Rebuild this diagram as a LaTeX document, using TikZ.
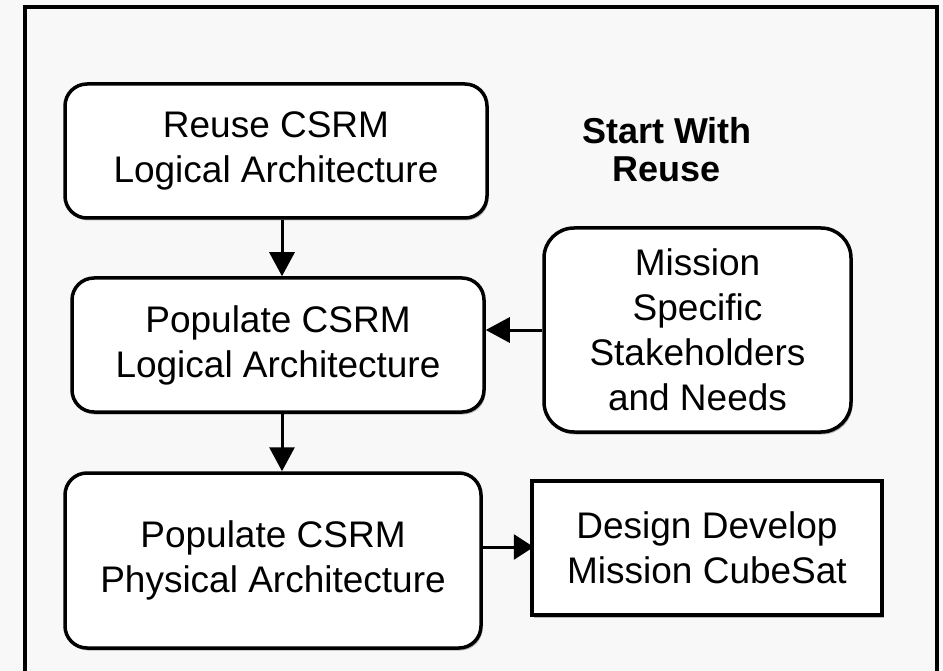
\documentclass[tikz,border=0pt]{standalone}
\usepackage{fontspec}
\setmainfont{Liberation Sans}
\usetikzlibrary{arrows.meta,shadows}
\definecolor{pagebg}{HTML}{F8F8F8}
\tikzset{
  x=1pt, y=-1pt,
  box/.style={draw=black, line width=3.5pt, fill=white, rounded corners=22pt,
    align=center, inner sep=0pt, font=\fontsize{37}{45}\selectfont,
    drop shadow={shadow xshift=1.5pt, shadow yshift=-2.5pt, fill=black!45, opacity=0.6}},
  sqbox/.style={box, rounded corners=0pt, line width=4.5pt},
  arr/.style={line width=3pt, -{Triangle[length=24pt,width=25pt]}},
}
\begin{document}
\begin{tikzpicture}
  \fill[pagebg] (0,0) rectangle (943,671);
  \useasboundingbox (0,0) rectangle (943,671);
  % open frame round the flow
  \draw[line width=4pt] (25,671) -- (25,7) -- (937,7) -- (937,671);

  \node[box, minimum width=422pt, minimum height=134pt] (reuse) at (276,151)
    {Reuse CSRM\\Logical Architecture};
  \node[box, minimum width=412pt, minimum height=134pt] (poplog) at (278,345)
    {Populate CSRM\\Logical Architecture};
  \node[box, rounded corners=30pt, minimum width=307pt, minimum height=204pt] (needs) at (697.5,330)
    {Mission\\Specific\\Stakeholders\\and Needs};
  \node[box, minimum width=416pt, minimum height=175pt] (popphys) at (273,560.5)
    {Populate CSRM\\Physical Architecture};
  \node[sqbox, minimum width=350pt, minimum height=134pt] (design) at (707,548)
    {Design Develop\\Mission CubeSat};

  \node[align=center, font=\bfseries\fontsize{36}{38}\selectfont] (title) at (667,150)
    {Start With\\Reuse};

  \coordinate (col) at (282,0);
  \coordinate (row) at (0,547);
  \draw[arr] (reuse.south -| col) -- (poplog.north -| col);
  \draw[arr] (poplog.south -| col) -- (popphys.north -| col);
  \draw[arr] (needs.west) -- (poplog.east |- needs.west);
  \draw[arr, -{Triangle[length=20pt,width=25pt]}] (popphys.east |- row) -- ([xshift=4pt]design.west |- row);
\end{tikzpicture}
\end{document}
